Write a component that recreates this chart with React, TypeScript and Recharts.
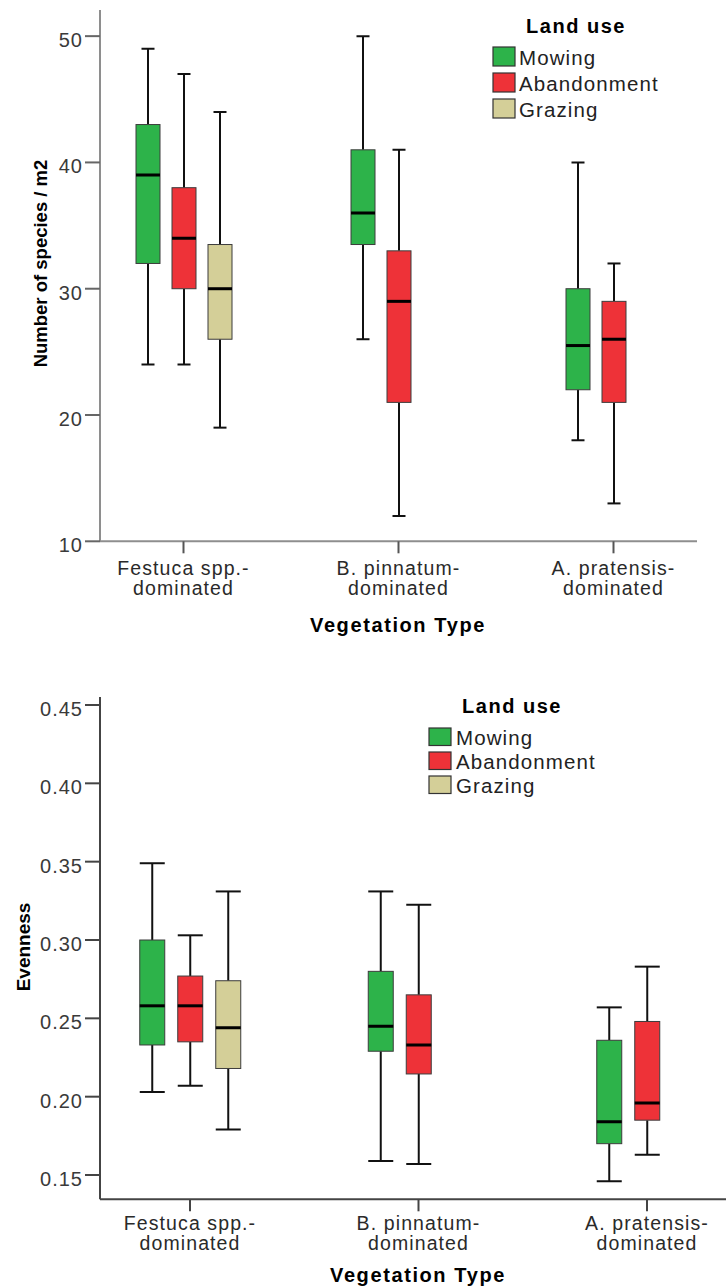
import React from 'react';
import { ComposedChart, Bar, XAxis, YAxis, Customized } from 'recharts';

const FONT = '"Liberation Sans", Arial, Helvetica, sans-serif';

// Categories and series
const vegetationTypes = ['Festuca spp.-\ndominated', 'B. pinnatum-\ndominated', 'A. pratensis-\ndominated'];
const landUses = ['Mowing', 'Abandonment', 'Grazing'];
const landUseColors = ['#2DB34A', '#EE3238', '#D4CF98'];

// Box statistics: [min, Q1, median, Q3, max]
const speciesMowing = [[24, 32, 39, 43, 49], [26, 33.5, 36, 41, 50], [18, 22, 25.5, 30, 40]];
const speciesAbandonment = [[24, 30, 34, 38, 47], [12, 21, 29, 33, 41], [13, 21, 26, 29, 32]];
const speciesGrazing = [[19, 26, 30, 33.5, 44], null, null];
const speciesTicks = [10, 20, 30, 40, 50];

const evennessMowing = [[0.203, 0.233, 0.258, 0.3, 0.349], [0.159, 0.229, 0.245, 0.28, 0.331], [0.146, 0.17, 0.184, 0.236, 0.257]];
const evennessAbandonment = [[0.207, 0.235, 0.258, 0.277, 0.303], [0.157, 0.2145, 0.233, 0.265, 0.3225], [0.163, 0.185, 0.196, 0.248, 0.283]];
const evennessGrazing = [[0.179, 0.218, 0.244, 0.274, 0.331], null, null];
const evennessTicks = [0.15, 0.2, 0.25, 0.3, 0.35, 0.4, 0.45];

function buildRows(series: (number[] | null)[][]) {
  return vegetationTypes.map((cat, i) => {
    const row: any = { cat };
    landUses.forEach((lu, j) => {
      const s = series[j][i];
      row[lu] = s ? [s[0], s[4]] : null;
      row[lu + 'Stats'] = s;
    });
    return row;
  });
}

const speciesRows = buildRows([speciesMowing, speciesAbandonment, speciesGrazing]);
const evennessRows = buildRows([evennessMowing, evennessAbandonment, evennessGrazing]);

function boxShape(key: string, fill: string, capW: number, whiskerW: number) {
  return (props: any) => {
    const { x, y, width, height, payload } = props;
    const st = payload && payload[key + 'Stats'];
    if (!st || !isFinite(y) || !isFinite(height) || !isFinite(x)) return <g />;
    const [mn, q1, md, q3, mx] = st;
    const top = Math.min(y, y + height);
    const h = Math.abs(height);
    const ppu = h / (mx - mn);
    const py = (v: number) => top + (mx - v) * ppu;
    const cx = x + width / 2;
    return (
      <g>
        <line x1={cx} x2={cx} y1={py(mx)} y2={py(q3)} stroke="#111" strokeWidth={whiskerW} />
        <line x1={cx} x2={cx} y1={py(q1)} y2={py(mn)} stroke="#111" strokeWidth={whiskerW} />
        <line x1={cx - capW / 2} x2={cx + capW / 2} y1={py(mx)} y2={py(mx)} stroke="#111" strokeWidth={whiskerW} />
        <line x1={cx - capW / 2} x2={cx + capW / 2} y1={py(mn)} y2={py(mn)} stroke="#111" strokeWidth={whiskerW} />
        <rect x={x} y={py(q3)} width={width} height={py(q1) - py(q3)} fill={fill} stroke="#3c3c3c" strokeWidth={1} />
        <line x1={x} x2={x + width} y1={py(md)} y2={py(md)} stroke="#000" strokeWidth={3} />
      </g>
    );
  };
}

const makeXTick = (firstDy: number, lineH: number, size: number) => (props: any) => {
  const { x, y, payload } = props;
  const lines = String(payload.value).split('\n');
  return (
    <text x={x} y={y} textAnchor="middle" fontFamily={FONT} fontSize={size} letterSpacing={1.1} fill="#2a2a2a">
      {lines.map((l, i) => (
        <tspan key={i} x={x} dy={i === 0 ? firstDy : lineH}>{l}</tspan>
      ))}
    </text>
  );
};

const makeYTick = (fmt: (v: number) => string, color: string) => (props: any) => {
  const { x, y, payload } = props;
  return (
    <text x={x} y={y} dy={11} textAnchor="end" fontFamily={FONT} fontSize={20} letterSpacing={1} fill={color}>
      {fmt(payload.value)}
    </text>
  );
};

function LegendBlock(p: { titleCx: number; titleY: number; boxX: number; boxYs: number[]; boxW: number; boxH: number; textX: number; textYs: number[] }) {
  return (
    <g>
      <text x={p.titleCx} y={p.titleY} textAnchor="middle" fontFamily={FONT} fontWeight="bold" fontSize={20} letterSpacing={1.5} fill="#000">
        Land use
      </text>
      {landUses.map((lu, i) => (
        <g key={lu}>
          <rect x={p.boxX} y={p.boxYs[i]} width={p.boxW} height={p.boxH} fill={landUseColors[i]} stroke="#333" strokeWidth={1.2} />
          <text x={p.textX} y={p.textYs[i]} fontFamily={FONT} fontSize={20.5} letterSpacing={1.1} fill="#222">
            {lu}
          </text>
        </g>
      ))}
    </g>
  );
}

function TopOverlay() {
  return (
    <g>
      <text x={398} y={632} textAnchor="middle" fontFamily={FONT} fontWeight="bold" fontSize={20} letterSpacing={1.6} fill="#000">
        Vegetation Type
      </text>
      <text x={41} y={263.5} dy="0.35em" textAnchor="middle" transform="rotate(-90 41 263.5)" fontFamily={FONT} fontWeight="bold" fontSize={18.5} fill="#000">
        Number of species / m2
      </text>
      <LegendBlock titleCx={576} titleY={33} boxX={493} boxYs={[47, 73, 99]} boxW={22} boxH={19} textX={519} textYs={[65, 91, 117]} />
    </g>
  );
}

function BottomOverlay() {
  return (
    <g>
      <text x={418} y={622} textAnchor="middle" fontFamily={FONT} fontWeight="bold" fontSize={20} letterSpacing={1.6} fill="#000">
        Vegetation Type
      </text>
      <text x={23} y={287} dy="0.35em" textAnchor="middle" transform="rotate(-90 23 287)" fontFamily={FONT} fontWeight="bold" fontSize={19} fill="#000">
        Evenness
      </text>
      <LegendBlock titleCx={512} titleY={53} boxX={429} boxYs={[68, 92, 116]} boxW={22} boxH={17.5} textX={456} textYs={[85, 109, 133]} />
    </g>
  );
}

export default function App() {
  return (
    <div style={{ position: 'absolute', left: 0, top: 0, width: 726, height: 1288, background: '#fff' }}>
      <div style={{ position: 'absolute', left: 0, top: 0 }}>
        <ComposedChart
          width={726}
          height={650}
          data={speciesRows}
          margin={{ top: 10, right: 29, bottom: 8.7, left: 0 }}
          barSize={24}
          barGap={12}
        >
          <XAxis
            dataKey="cat"
            type="category"
            interval={0}
            height={100}
            tickSize={12}
            tickMargin={0}
            padding={{ left: -24, right: -24 }}
            axisLine={{ stroke: '#8e8e8e', strokeWidth: 2 }}
            tickLine={{ stroke: '#555', strokeWidth: 2 }}
            tick={makeXTick(21.5, 20.5, 19.5)}
          />
          <YAxis
            type="number"
            domain={[10, 52.07]}
            ticks={speciesTicks}
            width={100}
            tickSize={15}
            tickMargin={2}
            axisLine={{ stroke: '#8e8e8e', strokeWidth: 2 }}
            tickLine={{ stroke: '#666', strokeWidth: 2 }}
            tick={makeYTick((v) => String(v), '#3a3a3a')}
            allowDataOverflow
          />
          {landUses.map((lu, i) => (
            <Bar key={lu} dataKey={lu} isAnimationActive={false} shape={boxShape(lu, landUseColors[i], 13, 2)} />
          ))}
          <Customized component={<TopOverlay />} />
        </ComposedChart>
      </div>
      <div style={{ position: 'absolute', left: 0, top: 660 }}>
        <ComposedChart
          width={726}
          height={628}
          data={evennessRows}
          margin={{ top: 37, right: 0, bottom: 0, left: 0 }}
          barSize={25}
          barGap={13}
        >
          <XAxis
            dataKey="cat"
            type="category"
            interval={0}
            height={88.7}
            tickSize={12}
            tickMargin={0}
            padding={{ left: -24.25, right: -35.25 }}
            axisLine={{ stroke: '#444', strokeWidth: 2 }}
            tickLine={{ stroke: '#444', strokeWidth: 2 }}
            tick={makeXTick(18.5, 20.5, 19.5)}
          />
          <YAxis
            type="number"
            domain={[0.1345, 0.4551]}
            ticks={evennessTicks}
            width={100}
            tickSize={15}
            tickMargin={2}
            axisLine={{ stroke: '#444', strokeWidth: 2 }}
            tickLine={{ stroke: '#444', strokeWidth: 2 }}
            tick={makeYTick((v) => v.toFixed(2), '#3a3a3a')}
            allowDataOverflow
          />
          {landUses.map((lu, i) => (
            <Bar key={lu} dataKey={lu} isAnimationActive={false} shape={boxShape(lu, landUseColors[i], 25, 2)} />
          ))}
          <Customized component={<BottomOverlay />} />
        </ComposedChart>
      </div>
    </div>
  );
}
